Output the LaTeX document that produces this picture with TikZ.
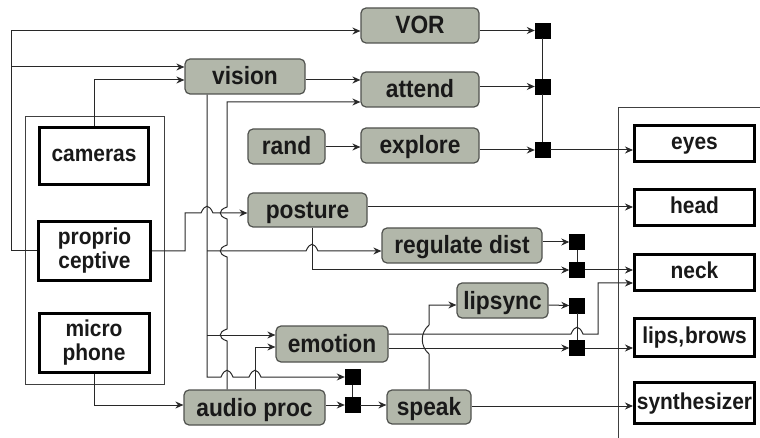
\documentclass[tikz,border=0pt]{standalone}
\usepackage{fontspec}
\setmainfont{Liberation Sans}
\newfontfamily\labfont[FakeStretch=0.91]{Liberation Sans}
\usetikzlibrary{arrows.meta}
\definecolor{softfill}{RGB}{178,183,170}
\definecolor{softdraw}{RGB}{80,82,78}
\definecolor{wire}{RGB}{40,40,40}
\newcommand\hh[2]{-- (#1-6,#2) .. controls (#1-2,#2-9) and (#1+2,#2-9) .. (#1+6,#2)}
\newcommand\vb[2]{-- (#1,#2+6) .. controls (#1-9,#2+3) and (#1-9,#2-3) .. (#1,#2-6)}
\begin{document}
\begin{tikzpicture}[x=1pt,y=-1pt,
  soft/.style={draw=softdraw,line width=1.2pt,fill=softfill,rounded corners=5pt,inner sep=0pt,
    font=\labfont\fontsize{25}{27}\selectfont\bfseries,text=black!90,text height=17pt,text depth=0pt},
  hwbase/.style={draw=black,line width=3pt,fill=white,inner sep=0pt,align=center,
    font=\labfont\fontsize{23}{24}\selectfont\bfseries,text=black!90},
  hw/.style={hwbase,text height=16pt,text depth=4pt},
  sq/.style={fill=black,draw=black,minimum size=15pt,inner sep=0pt},
  grp/.style={draw=black!75,line width=0.9pt},
  arr/.style={draw=wire,line width=1pt,-{Stealth[length=8pt,width=7pt]}},
  ln/.style={draw=wire,line width=1pt}]
\useasboundingbox (0,0) rectangle (760,438);
% group boxes
\draw[grp] (25,116) rectangle (164,384);
\draw[grp] (760,107) -- (618,107) -- (618,438);
% behaviour nodes
\node[soft,minimum width=118pt,minimum height=35pt] (vor) at (420,25.5) {VOR};
\node[soft,minimum width=118pt,minimum height=35pt] (att) at (420,89.5) {attend};
\node[soft,minimum width=118pt,minimum height=35pt] (expl) at (420,145.5) {explore};
\node[soft,minimum width=77pt,minimum height=35pt] (rand) at (286.5,146.5) {rand};
\node[soft,minimum width=120pt,minimum height=35pt] (vis) at (245,76.5) {vision};
\node[soft,minimum width=119pt,minimum height=34pt] (post) at (307.5,210) {posture};
\node[soft,minimum width=160pt,minimum height=35pt] (reg) at (462,245.5) {regulate dist};
\node[soft,minimum width=91pt,minimum height=35pt] (lip) at (502.5,300.5) {lipsync};
\node[soft,minimum width=112pt,minimum height=36pt] (emo) at (332,344) {emotion};
\node[soft,minimum width=141pt,minimum height=35pt] (aud) at (254.5,407.5) {audio proc};
\node[soft,minimum width=84pt,minimum height=34pt] (spk) at (429,407) {speak};
% hardware boxes
\node[hw,minimum width=109pt,minimum height=57pt] (cam) at (94,156) {cameras};
\node[hwbase,minimum width=112pt,minimum height=59pt] (prop) at (94.5,251) {proprio\\ceptive};
\node[hwbase,minimum width=110pt,minimum height=59pt] (mic) at (94,343) {micro\\phone};
\node[hw,minimum width=120pt,minimum height=36pt] (eyes) at (694.5,144) {eyes};
\node[hw,minimum width=120pt,minimum height=36pt] (head) at (694.5,208) {head};
\node[hw,minimum width=120pt,minimum height=36pt] (neck) at (694.5,272.5) {neck};
\node[hw,minimum width=120pt,minimum height=38pt] (lipsb) at (694.5,337.5) {lips,\kern1pt brows};
\node[hw,minimum width=120pt,minimum height=41pt] (synth) at (694.5,403) {synthesizer};
% arbitration squares
\node[sq] (sqV) at (542.5,30.5) {};
\node[sq] (sqT) at (542.5,86.5) {};
\node[sq] (sqX) at (542.5,150) {};
\node[sq] (sqR) at (577,242) {};
\node[sq] (sqN) at (577,270) {};
\node[sq] (sqP) at (577,305.5) {};
\node[sq] (sqL) at (577,348) {};
\node[sq] (sqE) at (352.5,377) {};
\node[sq] (sqA) at (352.5,405) {};
% proprioceptive loop
\draw[arr] (prop.west) -- (11,251) -- (11,31) -- (vor.west |- 0,31);
\draw[arr] (11,67) -- (vis.west |- 0,67);
\draw[arr] (prop.east) -- (185,251) -- (185,213) \hh{207}{213} -- (post.west |- 0,213);
% cameras -> vision
\draw[arr] (cam.north) -- (cam.north |- 0,80) -- (vis.west |- 0,80);
\draw[arr] (vis.east |- 0,80) -- (att.west |- 0,80);
% audio -> attend
\draw[arr] (aud.north -| 227,0) \vb{227}{335} \vb{227}{251} \vb{227}{213} -- (227,102) -- (att.west |- 0,102);
% vision bus
\draw[arr] (vis.south -| 207,0) -- (207,377) \hh{227}{377} \hh{255}{377} -- (sqE.west);
\draw[arr] (207,251) \hh{312}{251} -- (reg.west |- 0,251);
\draw[arr] (207,335) -- (emo.west |- 0,335);
% posture
\draw[arr] (post.east |- 0,207) -- (head.west |- 0,207);
\draw[arr] (post.south -| 312,0) -- (312,270) -- (sqN.west);
\draw[arr] (sqN.east) -- (neck.west |- 0,270);
\draw[arr] (reg.east |- 0,242) -- (sqR.west);
\draw[ln] (sqR) -- (sqN);
% eyes
\draw[arr] (rand.east |- 0,147) -- (expl.west |- 0,147);
\draw[arr] (vor.east |- 0,30.5) -- (sqV.west);
\draw[arr] (att.east |- 0,86.5) -- (sqT.west);
\draw[arr] (expl.east |- 0,150) -- (sqX.west);
\draw[ln] (sqV) -- (sqT) -- (sqX);
\draw[arr] (sqX.east) -- (eyes.west |- 0,150);
% microphone / audio
\draw[arr] (mic.south) -- (mic.south |- 0,405) -- (aud.west |- 0,405);
\draw[arr] (aud.east |- 0,405) -- (sqA.west);
\draw[arr] (sqA.east) -- (spk.west |- 0,405);
\draw[ln] (sqE) -- (sqA);
\draw[arr] (aud.north -| 255,0) -- (255,347) -- (emo.west |- 0,347);
% emotion outputs
\draw[arr] (emo.east |- 0,334) \hh{577}{334} -- (598,334) -- (598,283) -- (neck.west |- 0,283);
\draw[arr] (emo.east |- 0,348) -- (sqL.west);
\draw[arr] (sqL.east) -- (lipsb.west |- 0,348);
% speak
\draw[arr] (spk.north) -- (429,354) .. controls (420,346) and (420,333) .. (429,325) -- (429,305) -- (lip.west |- 0,305);
\draw[arr] (lip.east |- 0,305) -- (sqP.west);
\draw[ln] (sqP) -- (sqL);
\draw[arr] (spk.east |- 0,406) -- (synth.west |- 0,406);
\end{tikzpicture}
\end{document}
